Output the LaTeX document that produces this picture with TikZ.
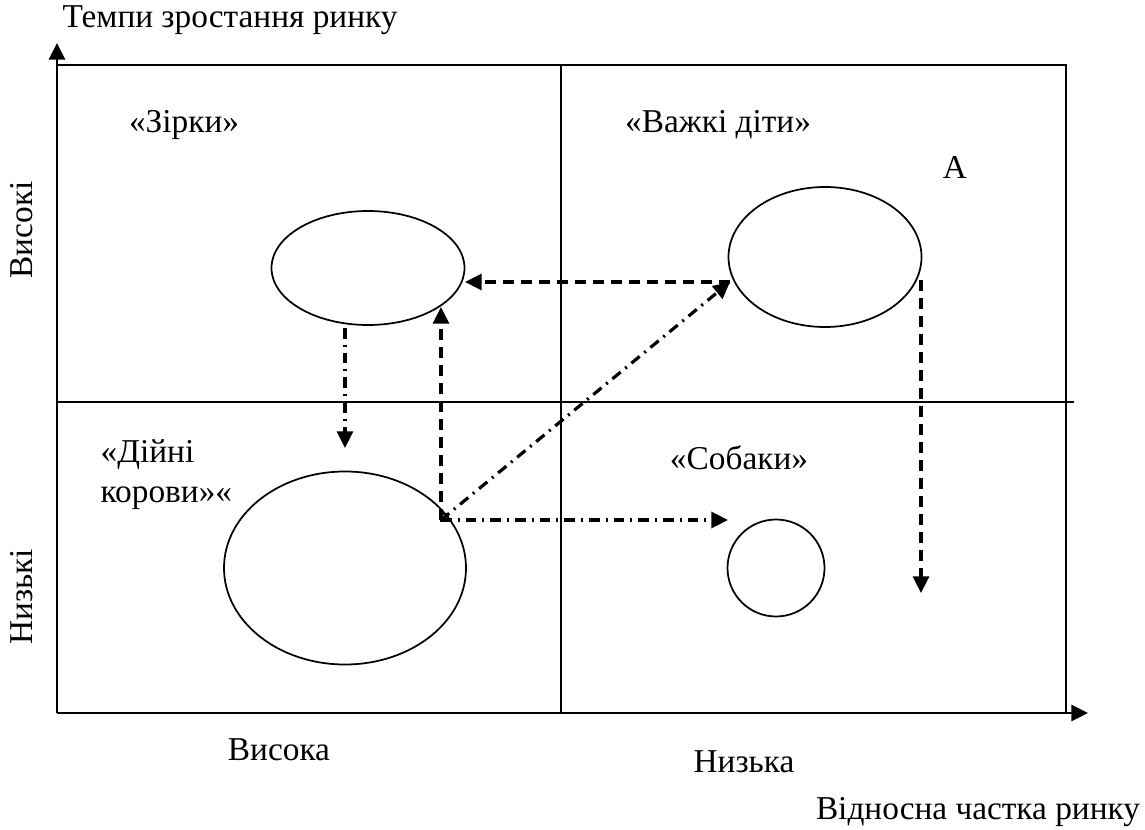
\documentclass[tikz,border=0pt]{standalone}
\usepackage{fontspec}
\setmainfont{Liberation Serif}
\usetikzlibrary{arrows.meta,shapes.geometric}
\begin{document}
\begin{tikzpicture}[x=0.75pt, y=-0.75pt, >={Triangle[length=12.5pt,width=12pt]},
    font=\fontsize{25}{30}\selectfont,
    frame/.style={line width=1.2pt},
    axis/.style={line width=2.2pt, ->},
    cell/.style={ellipse, draw, line width=1.3pt, inner sep=0pt},
    dashline/.style={->, line width=2.4pt, dash pattern=on 8pt off 5.5pt},
    dotline/.style={->, line width=2.4pt, dash pattern=on 8pt off 4.5pt on 1.5pt off 4.5pt}]
  \useasboundingbox (0,0) rectangle (1145,830);
  \coordinate (o) at (57,713);
  \coordinate (ytip) at (57,43);
  \coordinate (xtip) at (1088,713);
  \draw[frame] (57,65) -- (1066,65) -- (1066,713);
  \draw[frame] (561,65) -- (561,713);
  \draw[frame] (57,402) -- (1074,402);
  \draw[axis] (o) -- (ytip);
  \draw[axis] (o) -- (xtip);
  \node[cell, minimum width=144.75pt, minimum height=85.5pt] (stars) at (368,268) {};
  \node[cell, minimum width=144.75pt, minimum height=105pt] (child) at (825,257) {};
  \node[cell, minimum width=181.5pt, minimum height=144.75pt] (cows) at (345,568) {};
  \node[circle, draw, line width=1.3pt, minimum size=72.75pt, inner sep=0pt] (dogs) at (776,568) {};
  \coordinate (hub) at (441,520);
  \coordinate (childl) at (730,282);
  \coordinate (starsr) at (465,282);
  \coordinate (starsb) at (441,307);
  \coordinate (starsd) at (345,328);
  \coordinate (cowst) at (345,448);
  \coordinate (childr) at (921,280);
  \coordinate (childd) at (921,593);
  \coordinate (dogsl) at (728,520);
  \draw[dashline] (childl) -- (starsr);
  \draw[dashline] (hub) -- (starsb);
  \draw[dashline] (childr) -- (childd);
  \draw[dotline] (starsd) -- (cowst);
  \draw[dotline] (hub) -- (childl);
  \draw[dotline] (hub) -- (dogsl);
  \draw[line width=1pt] (441,514) rectangle (448,521);
  \node (ttl) at (230,20) {Темпи зростання ринку};
  \node[rotate=90] (hi) at (22,230) {Високі};
  \node[rotate=90] (lo) at (22,597) {Низькі};
  \node (s) at (184,125) {«Зірки»};
  \node (c) at (718,125) {«Важкі діти»};
  \node (a) at (955,168) {A};
  \node[anchor=west, align=left] (k) at (96,475) {«Дійні\\корови»«};
  \node (d) at (739,458) {«Собаки»};
  \node (vh) at (279,750) {Висока};
  \node (vl) at (744,762) {Низька};
  \node (xl) at (978,812) {Відносна частка ринку};
\end{tikzpicture}
\end{document}
